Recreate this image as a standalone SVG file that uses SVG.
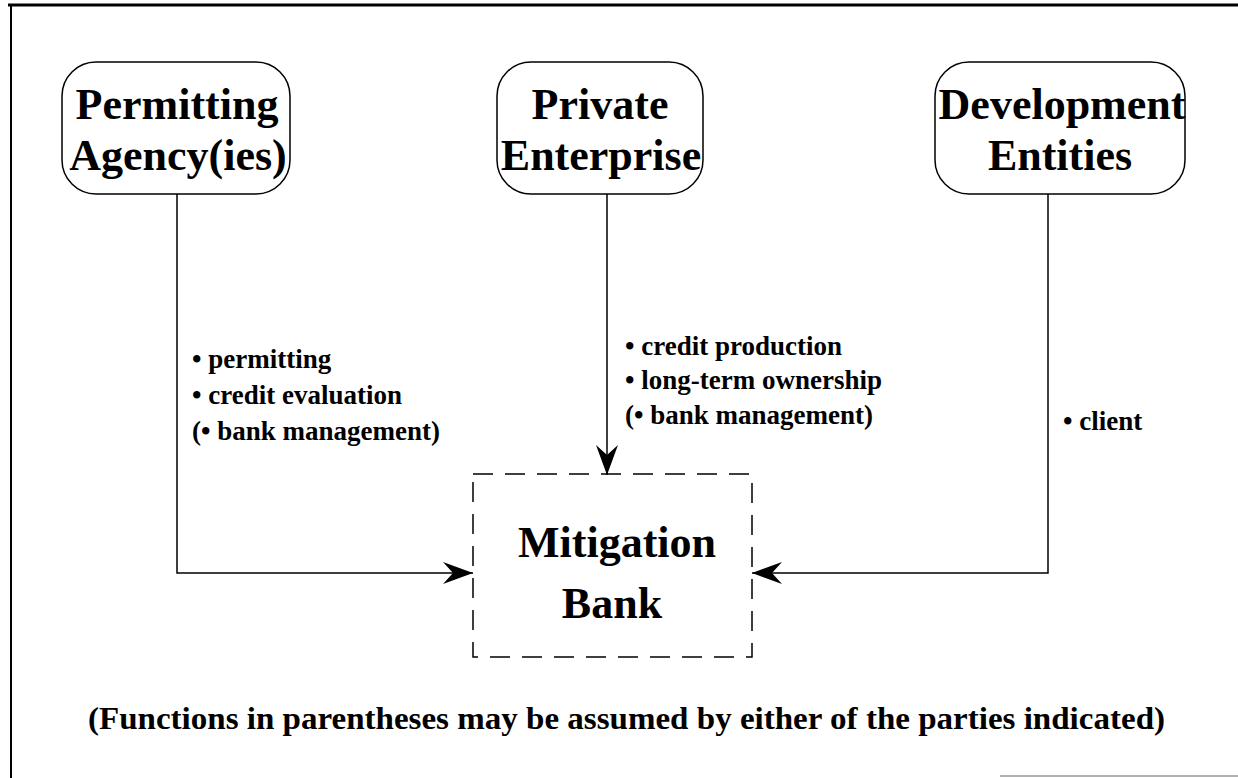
<svg xmlns="http://www.w3.org/2000/svg" width="1238" height="778" viewBox="0 0 1238 778">
<style>
text{font-family:"Liberation Serif","Times New Roman",serif;font-weight:bold;fill:#000}
.node{font-size:44px}
.lbl{font-size:27px}
.foot{font-size:32px}
.box{fill:#fff;stroke:#000;stroke-width:1.5}
.conn{fill:none;stroke:#000;stroke-width:1.5}
.bank{fill:none;stroke:#000;stroke-width:1.5;stroke-dasharray:20,12}
</style>
<defs>
<marker id="ah" markerWidth="32" markerHeight="24" refX="30" refY="11" orient="auto" markerUnits="userSpaceOnUse">
<path d="M0,0 L30,11 L0,22 L10,11 Z" fill="#000"/>
</marker>
</defs>
<rect width="1238" height="778" fill="#fff"/>
<g id="frame">
<line x1="8" y1="5" x2="1238" y2="5" stroke="#000" stroke-width="3"/>
<line x1="11" y1="4" x2="11" y2="778" stroke="#000" stroke-width="2"/>
<line x1="1000" y1="776" x2="1238" y2="776" stroke="#999" stroke-width="1.5"/>
</g>
<g id="connectors">
<path class="conn" d="M177,194 V573 H473" marker-end="url(#ah)"/>
<path class="conn" d="M607,194 V475" marker-end="url(#ah)"/>
<path class="conn" d="M1048,194 V573 H752" marker-end="url(#ah)"/>
</g>
<g id="permitting">
<rect class="box" x="62" y="62" width="228" height="132" rx="34"/>
<text class="node" x="177" y="119" text-anchor="middle">Permitting</text>
<text class="node" x="178" y="170" text-anchor="middle">Agency(ies)</text>
</g>
<g id="private">
<rect class="box" x="497" y="62" width="206" height="132" rx="34"/>
<text class="node" x="600" y="119" text-anchor="middle">Private</text>
<text class="node" x="601" y="170" text-anchor="middle">Enterprise</text>
</g>
<g id="development">
<rect class="box" x="935" y="62" width="250" height="132" rx="34"/>
<text class="node" x="1062" y="119" text-anchor="middle">Development</text>
<text class="node" x="1060" y="170" text-anchor="middle">Entities</text>
</g>
<g id="bank">
<rect class="bank" x="473" y="474" width="279" height="183"/>
<text class="node" x="617" y="557" text-anchor="middle">Mitigation</text>
<text class="node" x="612" y="618" text-anchor="middle">Bank</text>
</g>
<g id="labels">
<text class="lbl" x="192" y="368">• permitting</text>
<text class="lbl" x="192" y="404">• credit evaluation</text>
<text class="lbl" x="192" y="440">(• bank management)</text>
<text class="lbl" x="625" y="355">• credit production</text>
<text class="lbl" x="625" y="389">• long-term ownership</text>
<text class="lbl" x="625" y="424">(• bank management)</text>
<text class="lbl" x="1063" y="430">• client</text>
</g>
<text class="foot" x="88" y="729" textLength="1077" lengthAdjust="spacingAndGlyphs">(Functions in parentheses may be assumed by either of the parties indicated)</text>
</svg>
